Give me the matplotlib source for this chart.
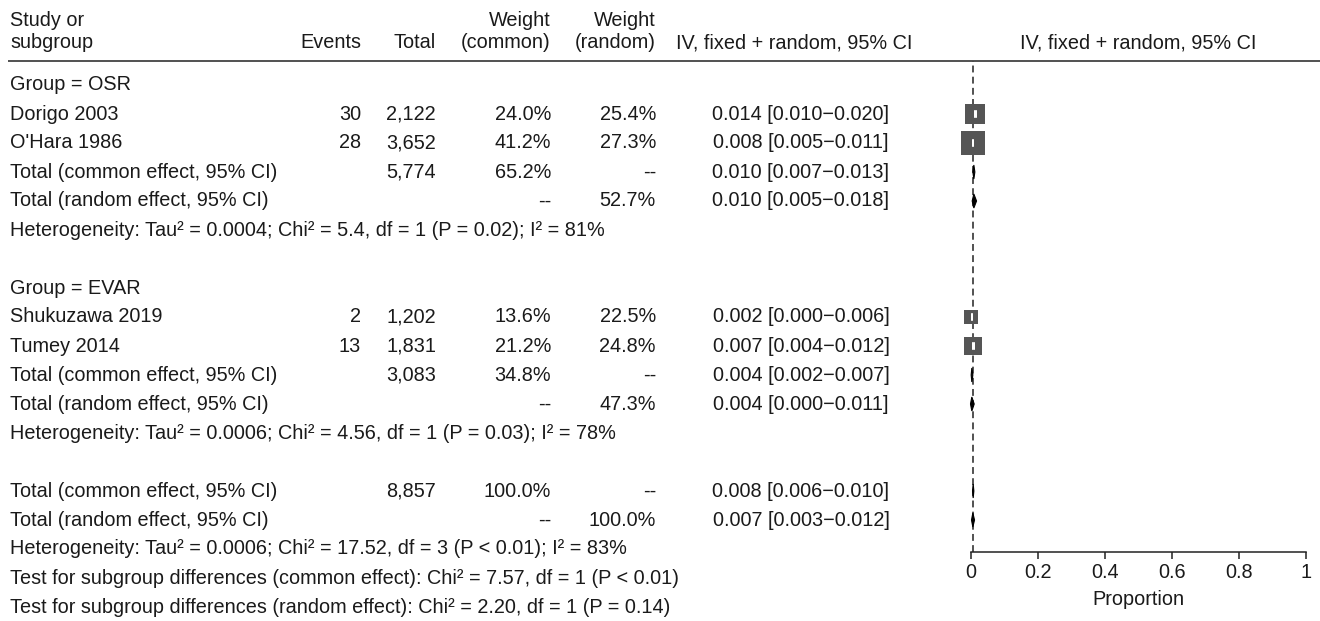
import matplotlib
matplotlib.use("Agg")
import matplotlib.pyplot as plt
from matplotlib.patches import Polygon

plt.rcParams['font.family'] = ['Liberation Sans', 'DejaVu Sans']

# ---- study level data -------------------------------------------------
studies = ["Dorigo 2003", "O'Hara 1986", "Shukuzawa 2019", "Tumey 2014"]
study_group = ["OSR", "OSR", "EVAR", "EVAR"]
events = [30, 28, 2, 13]
totals = [2122, 3652, 1202, 1831]
w_common = [24.0, 41.2, 13.6, 21.2]
w_random = [25.4, 27.3, 22.5, 24.8]
est = [0.014, 0.008, 0.002, 0.007]
ci_lo = [0.010, 0.005, 0.000, 0.004]
ci_hi = [0.020, 0.011, 0.006, 0.012]

# ---- subgroup summaries -----------------------------------------------
groups = ["OSR", "EVAR"]
sub_n = [5774, 3083]
sub_wc = [65.2, 34.8]
sub_wr = [52.7, 47.3]
sub_c_est = [0.010, 0.004]
sub_c_lo = [0.007, 0.002]
sub_c_hi = [0.013, 0.007]
sub_r_est = [0.010, 0.004]
sub_r_lo = [0.005, 0.000]
sub_r_hi = [0.018, 0.011]
sub_tau2 = ["0.0004", "0.0006"]
sub_chi2 = ["5.4", "4.56"]
sub_df = [1, 1]
sub_p = ["= 0.02", "= 0.03"]
sub_i2 = [81, 78]

# ---- overall summaries ------------------------------------------------
all_n = 8857
all_wc = 100.0
all_wr = 100.0
all_c = [0.008, 0.006, 0.010]
all_r = [0.007, 0.003, 0.012]
all_tau2, all_chi2, all_df, all_p, all_i2 = "0.0006", "17.52", 3, "< 0.01", 83
test_common = ["7.57", 1, "< 0.01"]
test_random = ["2.20", 1, "= 0.14"]

x_ticks = [0, 0.2, 0.4, 0.6, 0.8, 1]
x_tick_labels = ["0", "0.2", "0.4", "0.6", "0.8", "1"]

# ---- layout (pixels) --------------------------------------------------
W_PX, H_PX, DPI = 1320, 621, 100
ROW0, ROWH = 85, 29
FS = 14.3
TXT = "#1a1a1a"
SQ = "#555555"

def row_of(ypx):
    return (ypx - ROW0) / ROWH

fig = plt.figure(figsize=(W_PX / DPI, H_PX / DPI), dpi=DPI)
fig.patch.set_facecolor("white")

tax = fig.add_axes([0, 0, 1, 1])
tax.set_xlim(0, W_PX)
tax.set_ylim(row_of(H_PX), row_of(0))
tax.axis("off")

X_STUDY, X_EV, X_TOT, X_WC, X_WR, X_CI = 10, 361, 436, 551, 656, 801
X0_PX, X1_PX = 970.5, 1306
AX_TOP, AX_BOT = 61, 552

def txt(x, k, s, ha="left"):
    tax.text(x, k, s, ha=ha, va="center", fontsize=FS, color=TXT)

def fmt_ci(e, l, h):
    return f"{e:.3f} [{l:.3f}\u2212{h:.3f}]"

def het(tau, chi, df, p, i2):
    return f"Heterogeneity: Tau\u00b2 = {tau}; Chi\u00b2 = {chi}, df = {df} (P {p}); I\u00b2 = {i2}%"

# header
H1, H2 = row_of(21), row_of(43)
txt(X_STUDY, H1, "Study or")
txt(X_STUDY, H2, "subgroup")
txt(X_EV, H2, "Events", "right")
txt(X_TOT, H2, "Total", "right")
txt(X_WC, H1, "Weight", "right")
txt(X_WC, H2, "(common)", "right")
txt(X_WR, H1, "Weight", "right")
txt(X_WR, H2, "(random)", "right")
txt(794, H2, "IV, fixed + random, 95% CI", "center")
txt((X0_PX + X1_PX) / 2, H2, "IV, fixed + random, 95% CI", "center")
tax.plot([8, 1320], [row_of(AX_TOP)] * 2, color="#333333", lw=1.2,
         solid_capstyle="butt")

# forest axes
fax = fig.add_axes([X0_PX / W_PX, 1 - AX_BOT / H_PX,
                    (X1_PX - X0_PX) / W_PX, (AX_BOT - AX_TOP) / H_PX])
fax.set_facecolor("none")
fax.set_xlim(0, 1)
fax.set_ylim(row_of(AX_BOT), row_of(AX_TOP))
for side in ("top", "right", "left"):
    fax.spines[side].set_visible(False)
fax.spines["bottom"].set_bounds(0, 1)
fax.spines["bottom"].set_linewidth(1.1)
fax.spines["bottom"].set_color("#222222")
fax.set_yticks([])
fax.set_xticks(x_ticks)
fax.set_xticklabels(x_tick_labels)
fax.tick_params(axis="x", length=5, width=1.1, color="#222222",
                labelsize=FS, labelcolor=TXT, pad=3)
fax.set_xlabel("Proportion", fontsize=FS, color=TXT, labelpad=6)

# reference line at the overall common-effect estimate
fax.axvline(all_c[0], color="#222222", lw=1.1, ls=(0, (4.5, 2.8)), zorder=1)

DIA_H = 7 / ROWH

def diamond(k, e, l, h):
    fax.add_patch(Polygon([(l, k), (e, k - DIA_H), (h, k), (e, k + DIA_H)],
                          closed=True, facecolor="black", edgecolor="black",
                          lw=0.8, zorder=4, clip_on=False))

def square(k, i):
    fax.scatter([est[i]], [k], marker="s", s=7.84 * w_common[i], color=SQ,
                linewidths=0, zorder=3, clip_on=False)
    fax.hlines(k, ci_lo[i], ci_hi[i], color="white", lw=5.5, zorder=3.5)

k = 0
for g, grp in enumerate(groups):
    txt(X_STUDY, k, f"Group = {grp}")
    k += 1
    for i, s in enumerate(studies):
        if study_group[i] != grp:
            continue
        txt(X_STUDY, k, s)
        txt(X_EV, k, f"{events[i]}", "right")
        txt(X_TOT, k, f"{totals[i]:,}", "right")
        txt(X_WC, k, f"{w_common[i]:.1f}%", "right")
        txt(X_WR, k, f"{w_random[i]:.1f}%", "right")
        txt(X_CI, k, fmt_ci(est[i], ci_lo[i], ci_hi[i]), "center")
        square(k, i)
        k += 1
    txt(X_STUDY, k, "Total (common effect, 95% CI)")
    txt(X_TOT, k, f"{sub_n[g]:,}", "right")
    txt(X_WC, k, f"{sub_wc[g]:.1f}%", "right")
    txt(X_WR, k, "--", "right")
    txt(X_CI, k, fmt_ci(sub_c_est[g], sub_c_lo[g], sub_c_hi[g]), "center")
    diamond(k, sub_c_est[g], sub_c_lo[g], sub_c_hi[g])
    k += 1
    txt(X_STUDY, k, "Total (random effect, 95% CI)")
    txt(X_WC, k, "--", "right")
    txt(X_WR, k, f"{sub_wr[g]:.1f}%", "right")
    txt(X_CI, k, fmt_ci(sub_r_est[g], sub_r_lo[g], sub_r_hi[g]), "center")
    diamond(k, sub_r_est[g], sub_r_lo[g], sub_r_hi[g])
    k += 1
    txt(X_STUDY, k, het(sub_tau2[g], sub_chi2[g], sub_df[g], sub_p[g], sub_i2[g]))
    k += 2

txt(X_STUDY, k, "Total (common effect, 95% CI)")
txt(X_TOT, k, f"{all_n:,}", "right")
txt(X_WC, k, f"{all_wc:.1f}%", "right")
txt(X_WR, k, "--", "right")
txt(X_CI, k, fmt_ci(*all_c), "center")
diamond(k, *all_c)
k += 1
txt(X_STUDY, k, "Total (random effect, 95% CI)")
txt(X_WC, k, "--", "right")
txt(X_WR, k, f"{all_wr:.1f}%", "right")
txt(X_CI, k, fmt_ci(*all_r), "center")
diamond(k, *all_r)
k += 1
txt(X_STUDY, k, het(all_tau2, all_chi2, all_df, all_p, all_i2))
k += 1
txt(X_STUDY, k, "Test for subgroup differences (common effect): "
    f"Chi\u00b2 = {test_common[0]}, df = {test_common[1]} (P {test_common[2]})")
k += 1
txt(X_STUDY, k, "Test for subgroup differences (random effect): "
    f"Chi\u00b2 = {test_random[0]}, df = {test_random[1]} (P {test_random[2]})")

fig.savefig("out.png", dpi=DPI, facecolor="white")
